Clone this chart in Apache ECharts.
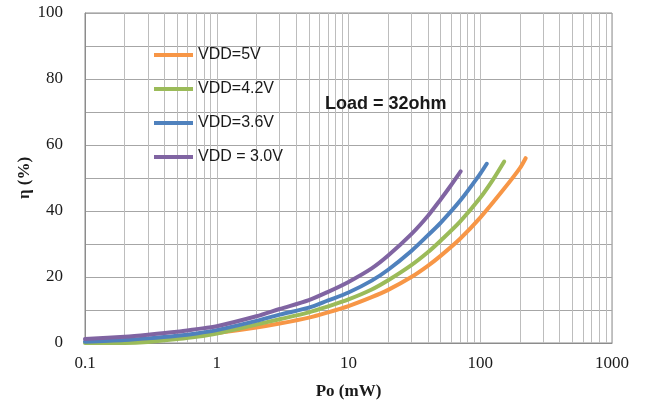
<!DOCTYPE html>
<html>
<head>
<meta charset="utf-8">
<script src="https://cdn.jsdelivr.net/npm/echarts@6/dist/echarts.min.js"></script>
<style>html,body{margin:0;padding:0;background:#fff;}#c{width:646px;height:405px;}</style>
</head>
<body>
<div id="c"></div>
<script>
const seriesNames = ['VDD=5V', 'VDD=4.2V', 'VDD=3.6V', 'VDD = 3.0V'];
const colors = ['#f79646', '#9bbb59', '#4f81bd', '#8064a2'];

const po5V   = [0.15, 0.2, 0.3, 0.5, 0.7, 1, 2, 3, 5, 7, 10, 15, 20, 30, 40, 50, 70, 100, 150, 200, 221];
const eta5V  = [0, 0.3, 0.9, 1.7, 2.3, 3.0, 4.7, 5.9, 7.7, 9.3, 11.2, 13.9, 16.1, 20, 23.4, 26.4, 31.5, 38, 46.5, 53, 56];

const po42V  = [0.1, 0.2, 0.3, 0.5, 0.7, 1, 2, 3, 5, 7, 10, 15, 20, 30, 40, 50, 70, 100, 125, 152];
const eta42V = [0, 0, 0.3, 1.2, 1.9, 2.9, 5.6, 7.2, 9.3, 11.1, 13.2, 16.2, 19, 23.6, 27.5, 31, 36.7, 44, 49.5, 55];

const po36V  = [0.1, 0.2, 0.3, 0.5, 0.7, 1, 2, 3, 5, 7, 10, 15, 20, 30, 40, 50, 70, 100, 112];
const eta36V = [0.4, 0.9, 1.4, 2.2, 2.9, 3.9, 6.7, 8.6, 10.7, 12.9, 15.3, 18.9, 22.2, 27.9, 32.6, 36.4, 43, 51.3, 54.3];

const po30V  = [0.1, 0.2, 0.3, 0.5, 0.7, 1, 2, 3, 5, 7, 10, 15, 20, 30, 40, 50, 60, 71];
const eta30V = [1.2, 1.9, 2.5, 3.4, 4.2, 5.1, 8.1, 10.3, 13, 15.5, 18.5, 22.6, 26.5, 33, 38.5, 43.5, 47.8, 52];

const xTickLabels = ['0.1', '1', '10', '100', '1000'];
const minorGridX = [];
[0.1, 1, 10, 100].forEach(d => { for (let k = 2; k <= 9; k++) minorGridX.push(+(d * k).toPrecision(3)); });

const allPo = [po5V, po42V, po36V, po30V];
const allEta = [eta5V, eta42V, eta36V, eta30V];

const chart = echarts.init(document.getElementById('c'), null, {renderer: 'canvas'});
const serif = 'Liberation Serif, Times New Roman, serif';

const series = seriesNames.map((name, i) => ({
  name: name,
  type: 'line',
  smooth: 0.3,
  showSymbol: false,
  symbol: 'none',
  data: allPo[i].map((p, j) => [p, allEta[i][j]]),
  lineStyle: {color: colors[i], width: 4, cap: 'round', join: 'round'},
  itemStyle: {color: colors[i]},
  z: 3,
  markLine: i === 0 ? {
    silent: true,
    symbol: ['none', 'none'],
    label: {show: false},
    animation: false,
    z: 1,
    lineStyle: {color: '#bdbdbd', width: 1, type: 'solid'},
    data: minorGridX.map(v => ({xAxis: v}))
  } : undefined
}));

chart.setOption({
  animation: false,
  backgroundColor: '#fff',
  grid: {left: 85, right: 34, top: 13, bottom: 61, show: true, borderColor: '#8c8c8c', borderWidth: 1, backgroundColor: 'transparent'},
  title: {
    text: 'Load = 32ohm', left: 320, top: 90,
    textStyle: {fontFamily: 'Liberation Sans, Arial, sans-serif', fontWeight: 'bold', fontSize: 18, color: '#1a1a1a'}
  },
  legend: {
    orient: 'vertical', left: 149, top: 42,
    icon: 'rect', itemWidth: 39, itemHeight: 4, itemGap: 18,
    data: seriesNames,
    textStyle: {fontFamily: 'Liberation Sans, Arial, sans-serif', fontSize: 16, color: '#1a1a1a', lineHeight: 16}
  },
  xAxis: {
    type: 'log', logBase: 10, min: 0.1, max: 1000,
    name: 'Po (mW)', nameLocation: 'middle', nameGap: 40, nameMoveOverlap: false,
    nameTextStyle: {fontFamily: serif, fontWeight: 'bold', fontSize: 17, color: '#1a1a1a'},
    axisLine: {show: true, lineStyle: {color: '#8c8c8c'}},
    axisTick: {show: false},
    axisLabel: {fontFamily: serif, fontSize: 17, color: '#1a1a1a', margin: 12,
      formatter: v => { const s = String(+v.toPrecision(3)); return xTickLabels.includes(s) ? s : ''; }},
    splitLine: {show: true, lineStyle: {color: '#bdbdbd', width: 1}}
  },
  yAxis: {
    type: 'value', min: 0, max: 100, interval: 10,
    name: 'η (%)', nameLocation: 'middle', nameGap: 52, nameRotate: 90, nameMoveOverlap: false,
    nameTextStyle: {fontFamily: serif, fontWeight: 'bold', fontSize: 17, color: '#1a1a1a'},
    axisLine: {show: true, lineStyle: {color: '#8c8c8c'}},
    axisTick: {show: false},
    axisLabel: {fontFamily: serif, fontSize: 17, color: '#1a1a1a', margin: 22,
      formatter: v => (v % 20 === 0 ? String(v) : '')},
    splitLine: {show: true, lineStyle: {color: '#a6a6a6', width: 1}}
  },
  series: series
});
</script>
</body>
</html>
